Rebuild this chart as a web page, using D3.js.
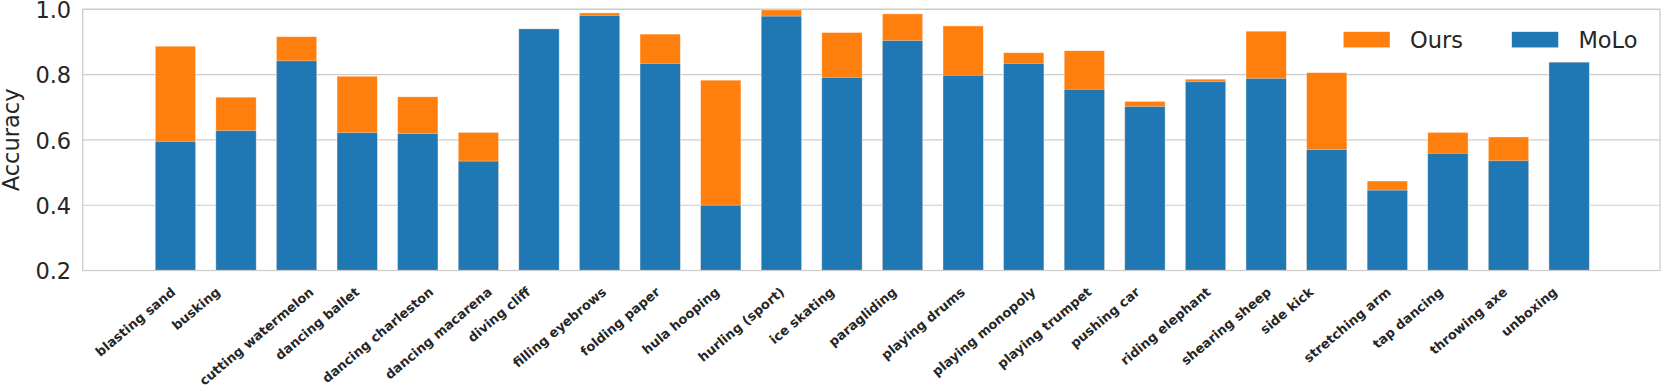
<!DOCTYPE html>
<html>
<head>
<meta charset="utf-8">
<script src="https://cdn.jsdelivr.net/npm/d3@7/dist/d3.min.js"></script>
<style>
  html, body { margin: 0; padding: 0; background: #fff; }
  svg { display: block; }
  text { font-family: "DejaVu Sans", sans-serif; fill: #262626; }
</style>
</head>
<body>
<svg id="chart" width="1661" height="389"></svg>
<script>
const categories = ["blasting sand", "busking", "cutting watermelon", "dancing ballet", "dancing charleston",
  "dancing macarena", "diving cliff", "filling eyebrows", "folding paper", "hula hooping", "hurling (sport)",
  "ice skating", "paragliding", "playing drums", "playing monopoly", "playing trumpet", "pushing car",
  "riding elephant", "shearing sheep", "side kick", "stretching arm", "tap dancing", "throwing axe", "unboxing"];
const molo = [0.595, 0.628, 0.842, 0.622, 0.619, 0.535, 0.940, 0.981, 0.834, 0.400, 0.979, 0.791,
  0.904, 0.798, 0.834, 0.755, 0.702, 0.778, 0.788, 0.570, 0.446, 0.559, 0.536, 0.838];
const ours = [0.887, 0.731, 0.916, 0.795, 0.732, 0.623, 0.940, 0.989, 0.924, 0.783, 0.998, 0.929,
  0.986, 0.949, 0.867, 0.873, 0.718, 0.786, 0.933, 0.806, 0.474, 0.623, 0.609, 0.838];
const yTicks = [0.2, 0.4, 0.6, 0.8, 1.0];
const seriesNames = ["Ours", "MoLo"];
const colors = {Ours: "#ff7f0e", MoLo: "#1f77b4"};

(function () {
const svg = d3.select("#chart");
const pLeft = 82.7, pRight = 1660, pTop = 9.3, pBottom = 270.5;
const fs = 22.5;

const x = d3.scaleLinear().domain([-1.53, 24.5]).range([pLeft, pRight]);
const y = d3.scaleLinear().domain([0.2, 1.0]).range([pBottom, pTop]);
const barW = 0.665;

svg.append("rect").attr("width", 1661).attr("height", 389).attr("fill", "#fff");

// horizontal grid
svg.append("g").selectAll("line").data(yTicks).join("line")
  .attr("x1", pLeft).attr("x2", pRight)
  .attr("y1", d => y(d)).attr("y2", d => y(d))
  .attr("stroke", "#cccccc").attr("stroke-width", 1.1);

// bars: Ours behind, MoLo in front
const bars = svg.append("g");
bars.selectAll("rect.ours").data(ours).join("rect").attr("class", "ours")
  .attr("x", (d, i) => x(i - barW / 2)).attr("width", x(barW) - x(0))
  .attr("y", d => y(d)).attr("height", d => y(0.2) - y(d))
  .attr("fill", colors.Ours).attr("stroke", "#fff").attr("stroke-width", 0.6).attr("stroke-opacity", 0.6);
bars.selectAll("rect.molo").data(molo).join("rect").attr("class", "molo")
  .attr("x", (d, i) => x(i - barW / 2)).attr("width", x(barW) - x(0))
  .attr("y", d => y(d)).attr("height", d => y(0.2) - y(d))
  .attr("fill", colors.MoLo).attr("stroke", "#fff").attr("stroke-width", 0.6).attr("stroke-opacity", 0.6);

// frame
svg.append("rect").attr("x", pLeft).attr("y", pTop).attr("width", pRight - pLeft).attr("height", pBottom - pTop)
  .attr("fill", "none").attr("stroke", "#cccccc").attr("stroke-width", 1.25);

// y axis
const yAxis = d3.axisLeft(y).tickValues(yTicks).tickFormat(d3.format(".1f")).tickSize(0).tickPadding(11.5);
const ga = svg.append("g").attr("transform", `translate(${pLeft},0)`).call(yAxis);
ga.select(".domain").remove();
ga.selectAll("text").attr("font-size", fs).attr("font-family", "DejaVu Sans").attr("fill", "#262626").attr("dy", "0.36em");

svg.append("text").attr("transform", `translate(18.5,${(pTop + pBottom) / 2}) rotate(-90)`)
  .attr("text-anchor", "middle").attr("font-size", fs).text("Accuracy");

// rotated x labels
const lfs = 13, ang = 40 * Math.PI / 180;
svg.append("g").selectAll("text").data(categories).join("text")
  .attr("font-size", lfs).attr("font-weight", "bold")
  .attr("text-anchor", "middle").attr("dominant-baseline", "central")
  .text(d => d)
  .each(function (d, i) {
    const L = this.getComputedTextLength();
    const hh = L / 2 * Math.sin(ang) + lfs / 2 * Math.cos(ang);
    d3.select(this).attr("transform", `translate(${x(i) - 40},${285 + hh}) rotate(-40)`);
  });

// legend
const legX = [1343.3, 1511.7];
const lg = svg.append("g");
seriesNames.forEach((name, k) => {
  lg.append("rect").attr("x", legX[k]).attr("y", 31.7).attr("width", 46.7).attr("height", 16)
    .attr("fill", colors[name]).attr("stroke", "#fff").attr("stroke-width", 0.6).attr("stroke-opacity", 0.6);
  lg.append("text").attr("x", legX[k] + 66.7).attr("y", 48).attr("font-size", fs).text(name);
});
})();
</script>
</body>
</html>
